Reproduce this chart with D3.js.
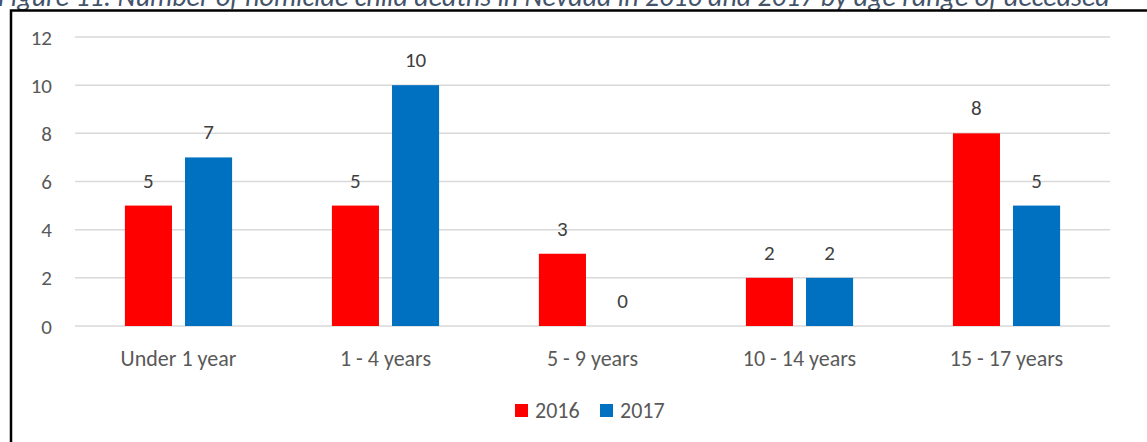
<!DOCTYPE html>
<html>
<head>
<meta charset="utf-8">
<script src="https://cdn.jsdelivr.net/npm/d3@7"></script>
<style>
  body { margin: 0; background: #fff; overflow: hidden; }
  text { font-family: Calibri, Carlito, Lato, sans-serif; }
</style>
</head>
<body>
<div id="chart"></div>
<script>
// age ranges on the x axis
let categories = ["Under 1 year", "1 - 4 years", "5 - 9 years", "10 - 14 years", "15 - 17 years"];
let seriesNames = ["2016", "2017"];
let values2016 = [5, 5, 3, 2, 8];
let values2017 = [7, 10, 0, 2, 5];
let yTicks = [0, 2, 4, 6, 8, 10, 12];
let colors = ["#FF0000", "#0070C0"];
let title = "Figure 11: Number of homicide child deaths in Nevada in 2016 and 2017 by age range of deceased";

let createChart = function () {
    let width = 1147;
    let height = 442;

    let svg = d3.select('#chart')
        .append('svg')
        .attr('width', width)
        .attr('height', height);

    // caption, cut off at the top like the source
    svg.append("text")
        .attr("x", -2)
        .attr("y", 6)
        .attr("font-size", 28)
        .attr("font-style", "italic")
        .attr("fill", "#44546A")
        .text(title);

    // frame: only top and left edges are visible
    svg.append("path")
        .attr("d", "M11,450 L11,10.5 L1160,10.5")
        .attr("fill", "none")
        .attr("stroke", "#000")
        .attr("stroke-width", 2.5);

    let left = 75, right = 1110, top = 37, bottom = 326;

    let x0 = d3.scaleBand()
        .domain(categories)
        .range([left, right])
        .padding(0);

    let x1 = d3.scaleBand()
        .domain(seriesNames)
        .range([0, x0.bandwidth()])
        .paddingInner(0.217)
        .paddingOuter(0.83);

    let y = d3.scaleLinear()
        .domain([0, 12])
        .range([bottom, top]);

    // gridlines
    svg.append("g")
        .selectAll("line")
        .data(yTicks)
        .join("line")
        .attr("x1", left)
        .attr("x2", right)
        .attr("y1", d => y(d))
        .attr("y2", d => y(d))
        .attr("stroke", "#D9D9D9")
        .attr("stroke-width", 1.5);

    // y tick labels
    svg.append("g")
        .selectAll("text")
        .data(yTicks)
        .join("text")
        .attr("x", 52)
        .attr("y", d => y(d))
        .attr("dy", "0.36em")
        .attr("text-anchor", "end")
        .attr("font-size", 21)
        .attr("fill", "#595959")
        .text(d => d);

    // build rows for grouped bars
    let rows = [];
    categories.forEach(function (c, i) {
        rows.push({cat: c, series: seriesNames[0], value: values2016[i], color: colors[0]});
        rows.push({cat: c, series: seriesNames[1], value: values2017[i], color: colors[1]});
    });

    svg.append("g")
        .selectAll("rect")
        .data(rows)
        .join("rect")
        .attr("x", d => x0(d.cat) + x1(d.series))
        .attr("y", d => y(d.value))
        .attr("width", x1.bandwidth())
        .attr("height", d => y(0) - y(d.value))
        .attr("fill", d => d.color);

    // value labels
    svg.append("g")
        .selectAll("text")
        .data(rows)
        .join("text")
        .attr("x", d => x0(d.cat) + x1(d.series) + x1.bandwidth() / 2)
        .attr("y", d => y(d.value) - 18)
        .attr("text-anchor", "middle")
        .attr("font-size", 21)
        .attr("fill", "#404040")
        .text(d => d.value);

    // category labels
    svg.append("g")
        .selectAll("text")
        .data(categories)
        .join("text")
        .attr("x", d => x0(d) + x0.bandwidth() / 2)
        .attr("y", 366)
        .attr("text-anchor", "middle")
        .attr("font-size", 22)
        .attr("fill", "#595959")
        .text(d => d);

    // legend
    let legend = svg.append("g")
        .selectAll("g")
        .data(seriesNames)
        .join("g")
        .attr("transform", (d, i) => `translate(${515 + i * 85}, 404)`);

    legend.append("rect")
        .attr("width", 13)
        .attr("height", 13)
        .attr("fill", (d, i) => colors[i]);

    legend.append("text")
        .attr("x", 20)
        .attr("y", 14)
        .attr("font-size", 22)
        .attr("fill", "#595959")
        .text(d => d);
};

createChart();
</script>
</body>
</html>
